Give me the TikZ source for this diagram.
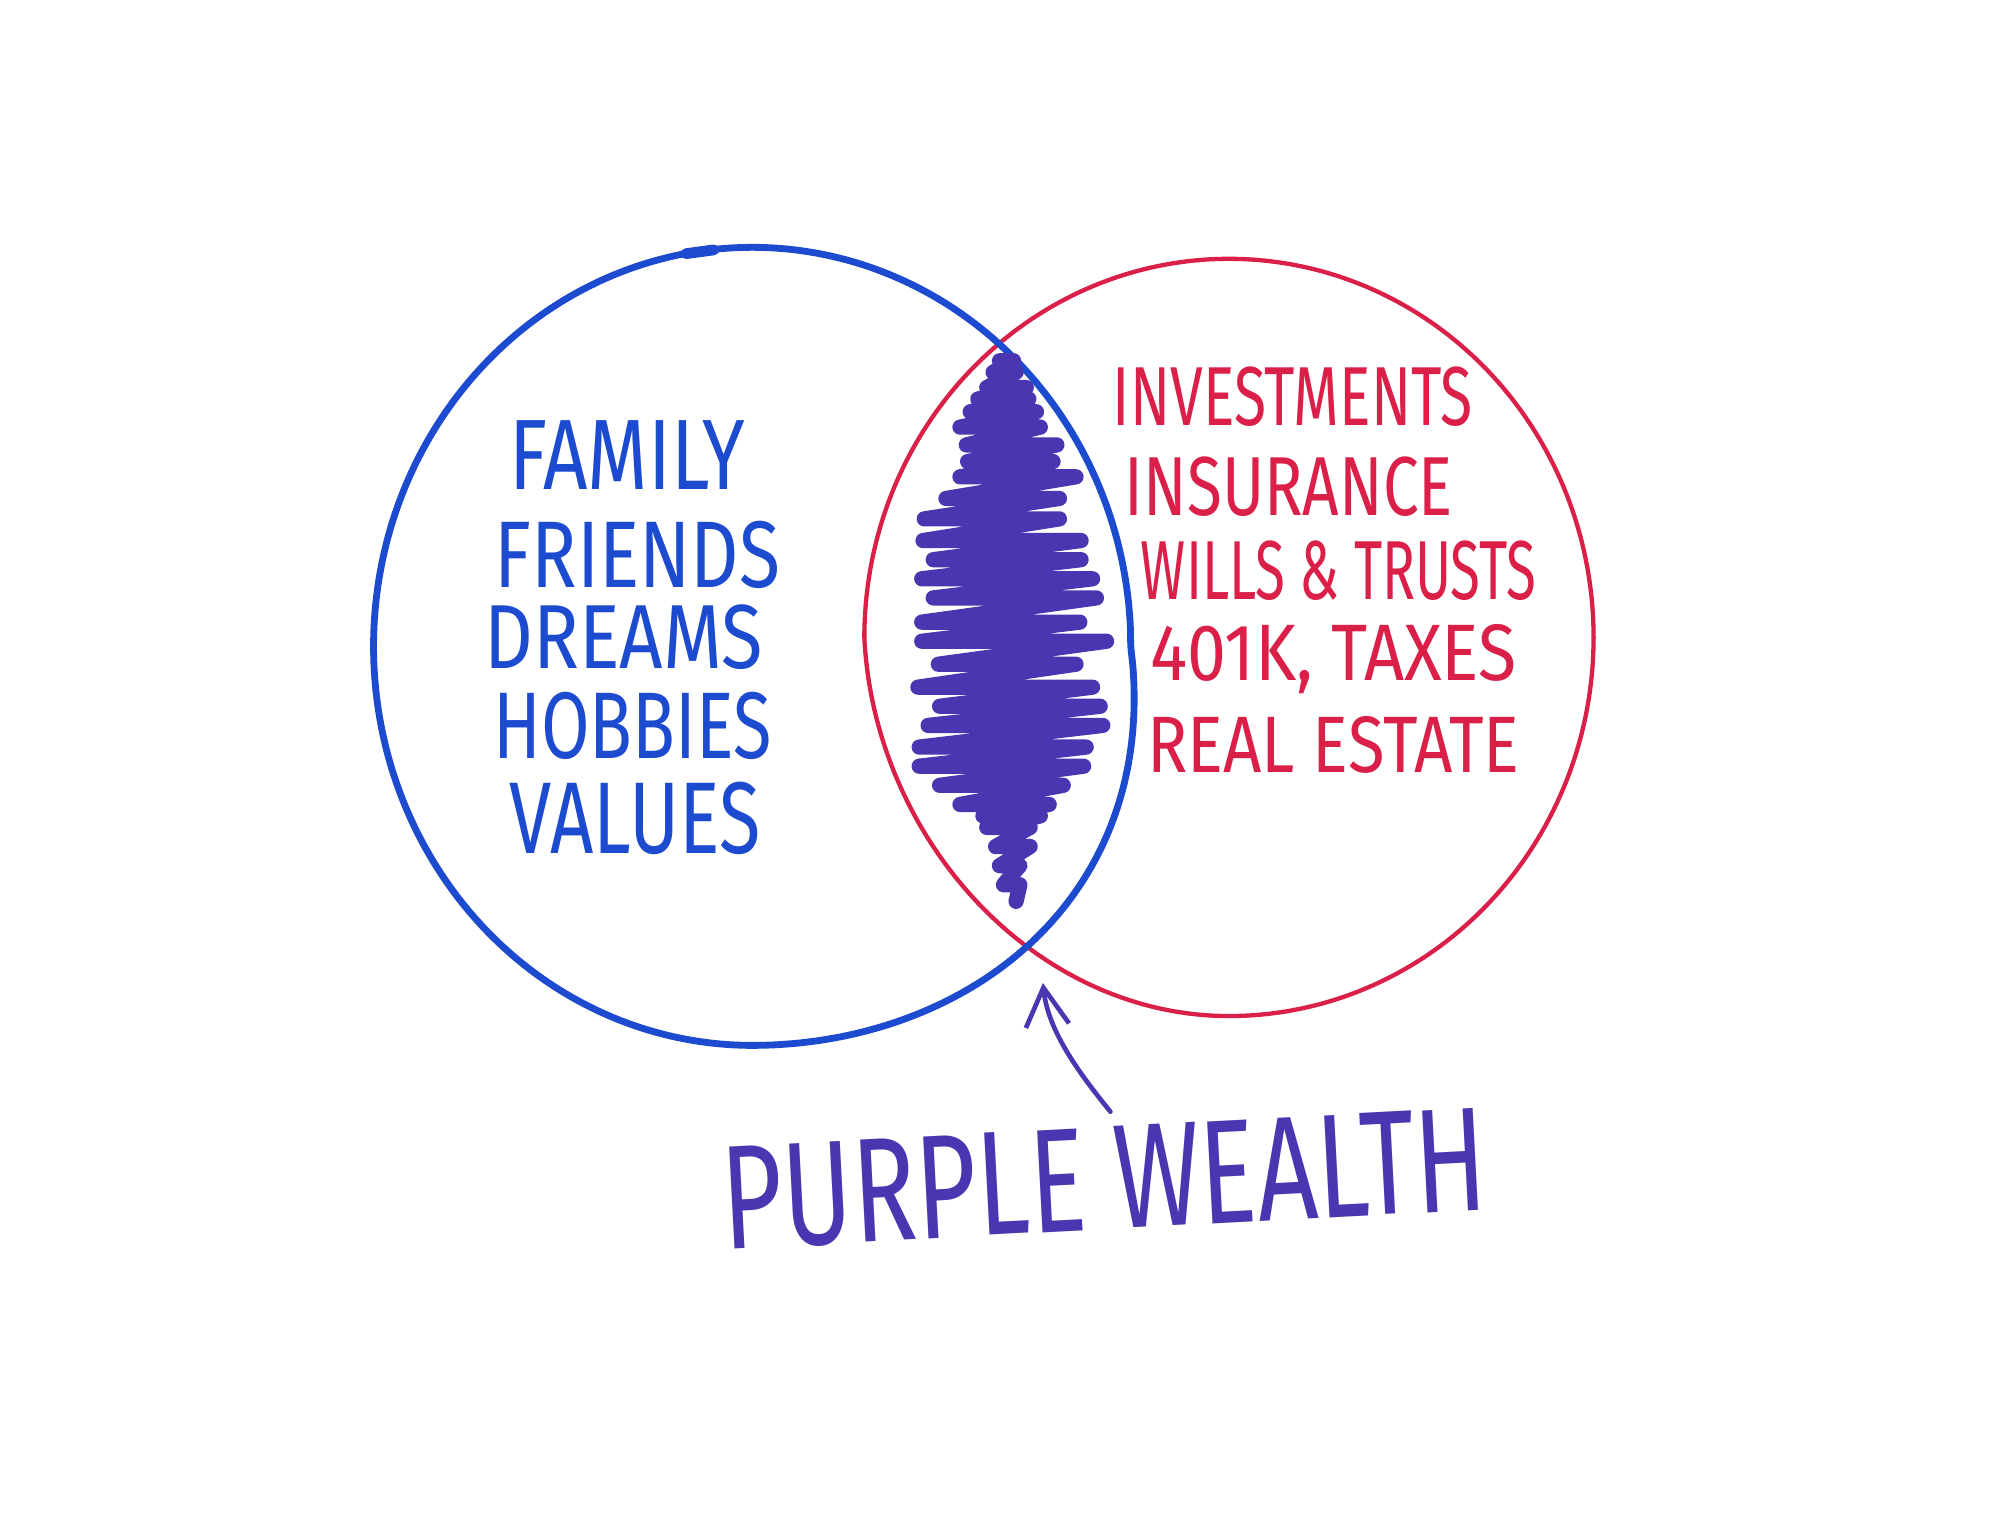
\documentclass[tikz,border=0pt]{standalone}
\usepackage{fontspec}
\setmainfont{Fira Sans}
\usetikzlibrary{arrows.meta}
\definecolor{penblue}{HTML}{1C4BD0}
\definecolor{penred}{HTML}{DA1F48}
\definecolor{penpurple}{HTML}{4A36B0}
\newcommand{\fitbox}[3]{\resizebox{#1}{#2}{#3}}
\begin{document}
\begin{tikzpicture}[x=0.025cm,y=-0.025cm,
  bluering/.style={draw=penblue,line width=3.8pt,line join=round},
  redring/.style={draw=penred,line width=2.4pt,line join=round},
  bluetext/.style={text=penblue,inner sep=0pt},
  redtext/.style={text=penred,inner sep=0pt},
  purpletext/.style={text=penpurple,inner sep=0pt},
  scribble/.style={draw=penpurple,line width=8.5pt,line cap=round,line join=round},
  pointer/.style={draw=penpurple,line width=2.6pt,line cap=round,
    -{Straight Barb[length=0.75cm,width=0.85cm]}}]
\fill[white] (0,0) rectangle (1568,1202);
\useasboundingbox (0,0) rectangle (1568,1202);

% red circle
\draw[redring] plot[smooth cycle,domain=0:357,samples=120,variable=\t]
  ({964+286*cos(\t)+14*max(0,sin(\t))*max(0,-cos(\t))}, {500+297*sin(\t)});

% blue circle
\draw[bluering] plot[smooth cycle,domain=0:357,samples=120,variable=\t]
  ({590+297*cos(\t)+40*max(0,sin(\t))*max(0,cos(\t))}, {507+313*sin(\t)});
\draw[penblue,line width=6pt,line cap=round] (538,199) -- (560,196);

% scribble in the overlap
\draw[scribble] (784,283) -- (795,283) -- (779,292) -- (797,292) -- (774,304) -- (805,304)
 -- (767,313) -- (807,313) -- (761,323) -- (813,323) -- (753,335) -- (816,335)
 -- (758,349) -- (829,349) -- (759,362) -- (826,362) -- (753,374) -- (844,374)
 -- (742,391) -- (831,391) -- (725,407) -- (831,407) -- (724,424) -- (848,424)
 -- (732,439) -- (848,439) -- (723,454) -- (857,454) -- (732,469) -- (860,469)
 -- (723,488) -- (847,488) -- (723,503) -- (868,503) -- (736,521) -- (844,521)
 -- (720,539) -- (857,539) -- (737,554) -- (863,554) -- (728,569) -- (865,569)
 -- (721,586) -- (852,586) -- (721,601) -- (850,601) -- (737,616) -- (834,616)
 -- (753,631) -- (823,631) -- (771,640) -- (816,640) -- (774,649) -- (808,649)
 -- (781,664) -- (808,664) -- (784,679) -- (800,679) -- (787,694) -- (800,694)
 -- (797,707);

% left list
\node[bluetext] (family)  at (492,357) {\fitbox{4.63cm}{1.35cm}{FAMILY}};
\node[bluetext] (friends) at (500,435) {\fitbox{5.6cm}{1.3cm}{FRIENDS}};
\node[bluetext] (dreams)  at (489,500) {\fitbox{5.45cm}{1.25cm}{DREAMS}};
\node[bluetext] (hobbies) at (496,569) {\fitbox{5.45cm}{1.3cm}{HOBBIES}};
\node[bluetext] (values)  at (498,642) {\fitbox{4.93cm}{1.4cm}{VALUES}};

% right list
\node[redtext] (invest) at (1014,311) {\fitbox{7.05cm}{1.15cm}{INVESTMENTS}};
\node[redtext] (insur)  at (1011,382) {\fitbox{6.43cm}{1.15cm}{INSURANCE}};
\node[redtext] (wills)  at (1050,448) {\fitbox{7.75cm}{1.15cm}{WILLS \& TRUSTS}};
\node[redtext] (taxes)  at (1046,517) {\fitbox{7.18cm}{1.1cm}{401K, TAXES}};
\node[redtext] (estate) at (1046,584) {\fitbox{7.3cm}{1.1cm}{REAL ESTATE}};

% label and pointer
\node[purpletext,rotate=3] (purple) at (866,925) {\fitbox{15cm}{2cm}{PURPLE WEALTH}};
\coordinate (arrowtail) at (871,872);
\coordinate (arrowtip) at (818,771);
\draw[pointer] (arrowtail) .. controls (845,840) and (822,808) .. (arrowtip);
\end{tikzpicture}
\end{document}
